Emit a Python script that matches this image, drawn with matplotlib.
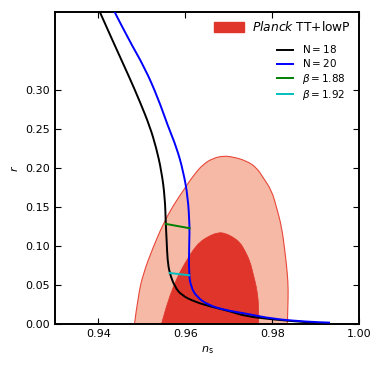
import numpy as np
import matplotlib
matplotlib.use("Agg")
import matplotlib.pyplot as plt
from matplotlib.patches import Patch, PathPatch
from matplotlib.lines import Line2D
from matplotlib.path import Path

# ── Planck TT+lowP contours (ns, r) ──────────────────────────────────── #
outer_ns = [0.9483, 0.9491, 0.9503, 0.9526, 0.9549, 0.9572, 0.9595, 0.9618,
            0.9641, 0.9664, 0.9687, 0.9710, 0.9741, 0.9764, 0.9779, 0.9799,
            0.9810, 0.9822, 0.9829, 0.9835, 0.9837, 0.9836, 0.9835]
outer_r = [0.0000, 0.0348, 0.0647, 0.0986, 0.1284, 0.1518, 0.1709, 0.1901,
           0.2050, 0.2126, 0.2156, 0.2143, 0.2092, 0.2006, 0.1879, 0.1709,
           0.1496, 0.1241, 0.0944, 0.0647, 0.0434, 0.0221, 0.0000]

inner_ns = [0.9545, 0.9557, 0.9572, 0.9587, 0.9603, 0.9617, 0.9633, 0.9652,
            0.9676, 0.9693, 0.9710, 0.9726, 0.9737, 0.9749, 0.9756, 0.9764,
            0.9768, 0.9769, 0.9769]
inner_r = [0.0000, 0.0242, 0.0476, 0.0663, 0.0816, 0.0944, 0.1050, 0.1122,
           0.1177, 0.1161, 0.1114, 0.1046, 0.0944, 0.0804, 0.0647, 0.0472,
           0.0306, 0.0153, 0.0000]

# ── model curves ─────────────────────────────────────────────────────── #
n18_ns = [0.9403, 0.9437, 0.9472, 0.9495, 0.9518, 0.9533, 0.9545, 0.9553,
          0.9555, 0.9557, 0.9559, 0.9564, 0.9576, 0.9591, 0.9622, 0.9660,
          0.9707, 0.9737, 0.9802, 0.9880, 0.9900]
n18_r = [0.4005, 0.3580, 0.3154, 0.2857, 0.2538, 0.2261, 0.1964, 0.1624,
         0.1284, 0.1071, 0.0816, 0.0647, 0.0476, 0.0370, 0.0284, 0.0221,
         0.0157, 0.0102, 0.0057, 0.0022, 0.0018]

n20_ns = [0.9437, 0.9468, 0.9507, 0.9537, 0.9560, 0.9580, 0.9595, 0.9606,
          0.9610, 0.9609, 0.9608, 0.9613, 0.9626, 0.9653, 0.9691, 0.9737,
          0.9802, 0.9880, 0.9933]
n20_r = [0.4005, 0.3665, 0.3282, 0.2899, 0.2538, 0.2261, 0.1964, 0.1624,
         0.1241, 0.1071, 0.0647, 0.0476, 0.0348, 0.0242, 0.0179, 0.0136,
         0.0064, 0.0029, 0.0017]

b188_ns = [0.9555, 0.9610]
b188_r = [0.1284, 0.1228]
b192_ns = [0.9564, 0.9609]
b192_r = [0.0654, 0.0625]

xticks = [0.94, 0.96, 0.98, 1.00]
yticks = [0.00, 0.05, 0.10, 0.15, 0.20, 0.25, 0.30]


def smooth_path(xs, ys, closed=False):
    """Quadratic-Bezier path using the read points as control points."""
    pts = np.column_stack([xs, ys])
    verts, codes = [pts[0]], [Path.MOVETO]
    for i in range(1, len(pts) - 1):
        verts += [pts[i], (pts[i] + pts[i + 1]) / 2]
        codes += [Path.CURVE3, Path.CURVE3]
    verts.append(pts[-1]); codes.append(Path.LINETO)
    if closed:
        verts.append(pts[0]); codes.append(Path.CLOSEPOLY)
    return Path(verts, codes)


plt.rcParams["mathtext.fontset"] = "dejavusans"

fig = plt.figure(figsize=(3.82, 3.69), dpi=100)
ax = fig.add_axes([0.144, 0.122, 0.796, 0.845])

dark = "#e0352b"
light = "#f6b9a5"
ax.add_patch(PathPatch(smooth_path(outer_ns, outer_r, closed=True),
                       facecolor=light, edgecolor="#e8473a", lw=0.8, zorder=1))
ax.add_patch(PathPatch(smooth_path(inner_ns, inner_r, closed=True),
                       facecolor=dark, edgecolor=dark, lw=0.5, zorder=2))

for xs, ys, c in [(n18_ns, n18_r, "k"), (n20_ns, n20_r, "b")]:
    ax.add_patch(PathPatch(smooth_path(xs, ys), fill=False, edgecolor=c,
                           lw=1.4, capstyle="butt", zorder=3))
ax.plot(b188_ns, b188_r, color="green", lw=1.4, zorder=4)
ax.plot(b192_ns, b192_r, color="c", lw=1.4, zorder=4)

ax.set_xlim(0.93, 1.00)
ax.set_ylim(0.0, 0.40)
ax.set_xticks(xticks)
ax.set_yticks(yticks)
ax.set_xticklabels([f"{v:.2f}" for v in xticks])
ax.set_yticklabels([f"{v:.2f}" for v in yticks])
ax.tick_params(direction="in", top=True, right=True, labelsize=8, length=4, width=0.8)
for s in ax.spines.values():
    s.set_linewidth(1.4)
ax.set_xlabel(r"$n_\mathrm{s}$", fontsize=8)
ax.set_ylabel(r"$r$", fontsize=8)

leg1 = ax.legend([Patch(facecolor=dark, edgecolor=dark)],
                 [r"$\mathit{Planck}$ TT$+$lowP"],
                 loc="upper right", frameon=False, fontsize=8.8,
                 handlelength=2.4, handleheight=0.8, handletextpad=0.7,
                 borderaxespad=0.25)
ax.add_artist(leg1)
handles = [Line2D([], [], color=c, lw=1.4) for c in ["k", "b", "green", "c"]]
labels = [r"N$=$18", r"N$=$20", r"$\beta$$=$1.88", r"$\beta$$=$1.92"]
ax.legend(handles, labels, loc="upper right", bbox_to_anchor=(0.985, 0.93),
          frameon=False, fontsize=7.5, handlelength=1.6, labelspacing=0.2)

fig.savefig("out.png", dpi=100)
